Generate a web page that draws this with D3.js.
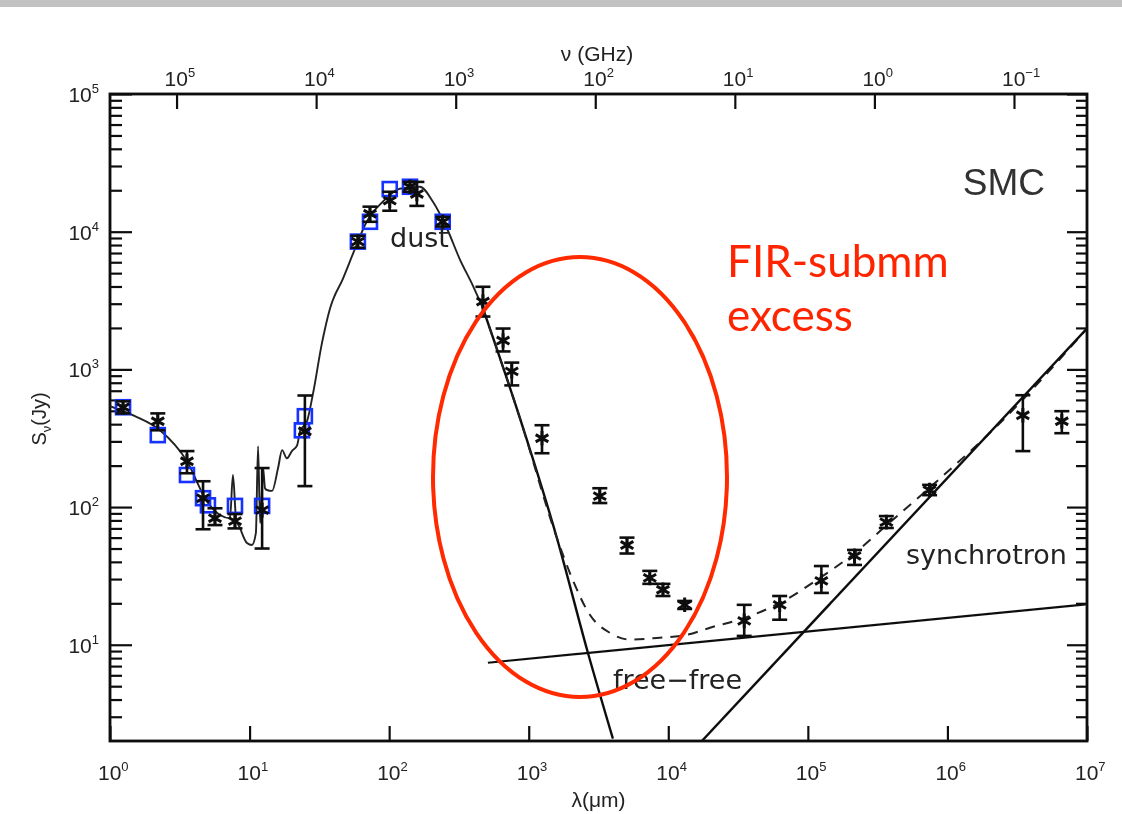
<!DOCTYPE html>
<html>
<head>
<meta charset="utf-8">
<script src="https://cdn.jsdelivr.net/npm/d3@7"></script>
<style>
body { margin: 0; background: #fff; }
svg { display: block; }
</style>
</head>
<body>
<div id="container"></div>
<script>
var width = 1122,
    height = 814;

// plot frame
var mLeft = 110, mRight = 1087, mTop = 94, mBottom = 741;

// axis ticks
var lambdaExp = [0, 1, 2, 3, 4, 5, 6, 7];
var nuExp = [5, 4, 3, 2, 1, 0, -1];
var fluxExp = [1, 2, 3, 4, 5];

// photometry: [lambda (um), S (Jy), low, high]
var photometry = [
    [1.24, 531, 479, 586],
    [2.2, 420, 361, 479],
    [3.56, 215, 176, 255],
    [4.64, 116, 69, 154],
    [5.65, 83, 74, 98],
    [7.86, 79, 70, 89],
    [12.3, 95, 50, 192],
    [24.9, 355, 142, 646],
    [59.7, 8470, 7650, 9330],
    [72.9, 13500, 11800, 15200],
    [101, 16800, 14200, 19500],
    [141, 21200, 19500, 23000],
    [158, 18800, 15400, 23000],
    [242, 11800, 10900, 12800],
    [470, 3110, 2420, 3980],
    [655, 1620, 1350, 1980],
    [756, 968, 765, 1120],
    [1245, 316, 246, 393],
    [3230, 120, 107, 137],
    [5060, 53, 46, 60],
    [7370, 30.6, 27.7, 34.4],
    [9160, 25.1, 22.6, 27.7],
    [13100, 19.5, 18.2, 20.8],
    [35000, 14.9, 11.6, 19.5],
    [62800, 19.5, 15.2, 22.6],
    [125000, 29.1, 23.8, 37.3],
    [216000, 44.2, 38, 48.8],
    [365000, 77.8, 70.5, 86],
    [745000, 133, 122, 145],
    [3.47e6, 464, 255, 649],
    [6.6e6, 420, 344, 497]
];

// second photometry set (blue squares): [lambda, S]
var photometryBlue = [
    [1.24, 531], [2.2, 333], [3.56, 171], [4.64, 116], [5.03, 103],
    [7.86, 102], [12.3, 102], [23.7, 361], [24.9, 457],
    [59.7, 8470], [72.9, 11800], [101, 20400], [141, 21200], [242, 11800]
];

// total model, solid part (stars + PAH + dust)
var modelSolid = [
    [1.0, 540], [1.51, 457], [2.28, 361], [3.56, 215], [4.95, 110], [6.14, 87.5],
    [7.24, 83], [7.6, 171], [8.0, 83], [8.53, 70.5], [9.58, 54.8], [10.4, 53],
    [11.1, 64.9], [11.5, 277], [11.9, 76.6], [12.3, 144], [12.5, 192], [12.9, 137],
    [13.3, 133], [14.5, 131], [16, 192], [17.1, 259], [18.5, 226], [20.1, 255],
    [21.9, 281], [23, 356], [25.8, 420], [28.5, 670], [33, 1550], [37.7, 2770],
    [46.7, 4570], [57, 7530], [69, 11800], [90, 16500], [119, 20500], [166, 21200],
    [206, 16500], [260, 10500], [321, 6300], [398, 4060], [470, 2770]
];

// dust tail
var dustTail = [
    [470, 2770], [865, 442], [1592, 59.6], [2655, 8.75], [4010, 2.08]
];

// total model, dashed part
var modelDashed = [
    [470, 2770], [865, 442], [1592, 59.6], [2040, 30.6], [2742, 16.5],
    [3820, 12.2], [5310, 10.9], [8280, 11.2], [13600, 11.8], [19900, 13.3],
    [35400, 15.7], [63000, 20.1], [122000, 30.6], [217000, 46.4], [368000, 74],
    [786000, 145], [2.37e6, 406], [1e7, 1980]
];

var freeFree = [[510, 7.4], [1e7, 19.7]];
var synchrotron = [[17400, 2], [1e7, 1980]];

var C_GHZ_UM = 2.998e5;

var svg = d3.select("#container").append("svg")
    .attr("width", width)
    .attr("height", height)
    .style("font-family", "'Liberation Sans', Arial, sans-serif");

svg.append("rect").attr("width", width).attr("height", height).attr("fill", "#fff");
svg.append("rect").attr("width", width).attr("height", 7).attr("fill", "#c2c2c2");

var defs = svg.append("defs");
defs.append("clipPath").attr("id", "plotclip")
    .append("rect")
    .attr("x", mLeft).attr("y", mTop)
    .attr("width", mRight - mLeft).attr("height", mBottom - mTop);
defs.append("filter").attr("id", "soft")
    .append("feGaussianBlur").attr("stdDeviation", 0.6);

var x = d3.scaleLog().domain([1, 1e7]).range([mLeft, mRight]);
var y = d3.scaleLog().domain([2, 1e5]).range([mBottom, mTop]);
var nu = d3.scaleLog().domain([C_GHZ_UM, C_GHZ_UM / 1e7]).range([mLeft, mRight]);

var chart = svg.append("g").attr("filter", "url(#soft)");

var yMajor = fluxExp.map(e => Math.pow(10, e));
var yMinor = [];
for (let e = 0; e < 5; ++e) {
    for (let k = 2; k <= 9; ++k) {
        let v = k * Math.pow(10, e);
        if (v > 2 && v < 1e5) yMinor.push(v);
    }
}

function styleAxis(g) {
    g.select(".domain").remove();
    g.selectAll(".tick line").attr("stroke", "#111").attr("stroke-width", 2.2);
}

chart.append("g").attr("transform", `translate(${mLeft},0)`)
    .call(d3.axisLeft(y).tickValues(yMajor).tickSize(-22).tickFormat(""))
    .call(styleAxis);
chart.append("g").attr("transform", `translate(${mLeft},0)`)
    .call(d3.axisLeft(y).tickValues(yMinor).tickSize(-12).tickFormat(""))
    .call(styleAxis);
chart.append("g").attr("transform", `translate(${mRight},0)`)
    .call(d3.axisRight(y).tickValues(yMajor).tickSize(-20).tickFormat(""))
    .call(styleAxis);
chart.append("g").attr("transform", `translate(${mRight},0)`)
    .call(d3.axisRight(y).tickValues(yMinor).tickSize(-11).tickFormat(""))
    .call(styleAxis);
chart.append("g").attr("transform", `translate(0,${mBottom})`)
    .call(d3.axisBottom(x).tickValues(lambdaExp.map(e => Math.pow(10, e))).tickSize(-15).tickFormat(""))
    .call(styleAxis);
chart.append("g").attr("transform", `translate(0,${mTop})`)
    .call(d3.axisTop(nu).tickValues(nuExp.map(e => Math.pow(10, e))).tickSize(-15).tickFormat(""))
    .call(styleAxis);

chart.append("rect")
    .attr("x", mLeft).attr("y", mTop)
    .attr("width", mRight - mLeft).attr("height", mBottom - mTop)
    .attr("fill", "none").attr("stroke", "#111").attr("stroke-width", 2.8);

// power-of-ten labels
function powLabel(g, px, py, e, anchor) {
    var t = g.append("text")
        .attr("x", px).attr("y", py)
        .attr("fill", "#222")
        .attr("font-size", 21)
        .attr("text-anchor", anchor);
    t.append("tspan").text("10");
    t.append("tspan").attr("dy", -9).attr("font-size", 13)
        .text(e < 0 ? "\u2212" + (-e) : e);
}

lambdaExp.forEach(e => powLabel(chart, x(Math.pow(10, e)) - 12, 780, e, "start"));
nuExp.forEach(e => powLabel(chart, nu(Math.pow(10, e)) - 12, 86, e, "start"));
fluxExp.forEach(e => powLabel(chart, 99, y(Math.pow(10, e)) + 8, e, "end"));

chart.append("text")
    .attr("x", (mLeft + mRight) / 2).attr("y", 807)
    .attr("text-anchor", "middle").attr("font-size", 21).attr("fill", "#222")
    .text("\u03bb(\u03bcm)");

chart.append("text")
    .attr("x", 597).attr("y", 61)
    .attr("text-anchor", "middle").attr("font-size", 21).attr("fill", "#222")
    .text("\u03bd (GHz)");

var yt = chart.append("text")
    .attr("transform", "translate(46,419) rotate(-90)")
    .attr("text-anchor", "middle").attr("font-size", 20).attr("fill", "#222");
yt.append("tspan").text("S");
yt.append("tspan").attr("dy", 5).attr("font-size", 13).text("\u03bd");
yt.append("tspan").attr("dy", -5).text("(Jy)");

// curves
var plot = chart.append("g").attr("clip-path", "url(#plotclip)");

var line = d3.line()
    .x(d => x(d[0]))
    .y(d => y(d[1]))
    .curve(d3.curveMonotoneX);

plot.append("path").datum(modelSolid)
    .attr("d", line).attr("fill", "none")
    .attr("stroke", "#222").attr("stroke-width", 1.9);
plot.append("path").datum(dustTail)
    .attr("d", line).attr("fill", "none")
    .attr("stroke", "#111").attr("stroke-width", 2.4);
plot.append("path").datum(modelDashed)
    .attr("d", line).attr("fill", "none")
    .attr("stroke", "#222").attr("stroke-width", 2)
    .attr("stroke-dasharray", "10,8");
plot.append("path").datum(freeFree)
    .attr("d", line).attr("fill", "none")
    .attr("stroke", "#111").attr("stroke-width", 2.2);
plot.append("path").datum(synchrotron)
    .attr("d", line).attr("fill", "none")
    .attr("stroke", "#111").attr("stroke-width", 2.4);

// blue squares
plot.selectAll(".sq").data(photometryBlue).enter().append("rect")
    .attr("class", "sq")
    .attr("x", d => x(d[0]) - 7).attr("y", d => y(d[1]) - 7)
    .attr("width", 14).attr("height", 14)
    .attr("fill", "none").attr("stroke", "#1530ff").attr("stroke-width", 2.6);

// error bars
var eb = plot.selectAll(".eb").data(photometry).enter().append("g").attr("class", "eb")
    .attr("stroke", "#111").attr("stroke-width", 2.6);
eb.append("line")
    .attr("x1", d => x(d[0])).attr("x2", d => x(d[0]))
    .attr("y1", d => y(d[2])).attr("y2", d => y(d[3]));
eb.append("line")
    .attr("x1", d => x(d[0]) - 7.5).attr("x2", d => x(d[0]) + 7.5)
    .attr("y1", d => y(d[2])).attr("y2", d => y(d[2]));
eb.append("line")
    .attr("x1", d => x(d[0]) - 7.5).attr("x2", d => x(d[0]) + 7.5)
    .attr("y1", d => y(d[3])).attr("y2", d => y(d[3]));

// asterisks
var star = d3.symbol().type(d3.symbolAsterisk).size(150);
plot.selectAll(".st").data(photometry).enter().append("path")
    .attr("class", "st")
    .attr("d", star)
    .attr("transform", d => `translate(${x(d[0])},${y(d[1])})`)
    .attr("fill", "none").attr("stroke", "#111").attr("stroke-width", 3);

// component labels
var lab = chart.append("g")
    .style("font-family", "'DejaVu Sans', sans-serif")
    .attr("font-size", 27).attr("fill", "#222");
lab.append("text").attr("x", 390).attr("y", 247).text("dust");
lab.append("text").attr("x", 613).attr("y", 689).text("free\u2212free");
lab.append("text").attr("x", 906).attr("y", 564).text("synchrotron");

chart.append("text")
    .attr("x", 1045).attr("y", 195)
    .attr("text-anchor", "end").attr("font-size", 37).attr("fill", "#333")
    .text("SMC");

// annotation
svg.append("ellipse")
    .attr("cx", 580).attr("cy", 477).attr("rx", 147).attr("ry", 220)
    .attr("fill", "none").attr("stroke", "#ff2a00").attr("stroke-width", 4);

var note = svg.append("g")
    .style("font-family", "Lato, 'Open Sans', sans-serif")
    .attr("font-size", 44).attr("fill", "#ff2400");
note.append("text").attr("x", 727).attr("y", 277).text("FIR-submm");
note.append("text").attr("x", 727).attr("y", 331).text("excess");
</script>
</body>
</html>
